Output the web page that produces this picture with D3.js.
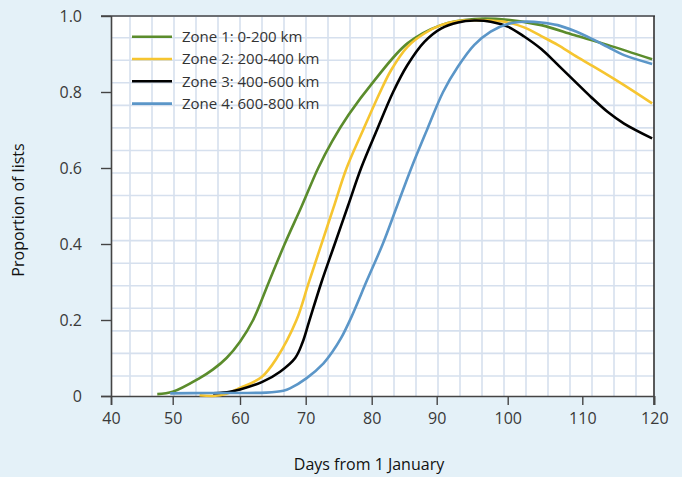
<!DOCTYPE html>
<html>
<head>
<meta charset="utf-8">
<script src="https://cdn.jsdelivr.net/npm/d3@7"></script>
<style>
  body { margin: 0; background: #e4f1f8; }
  svg { display: block; }
  text { font-family: "Open Sans", "Noto Sans", sans-serif; }
</style>
</head>
<body>
<svg id="chart" width="682" height="477"></svg>
<script>
// tick labels as printed on the chart
var dayTicks = [40, 50, 60, 70, 80, 90, 100, 110, 120];
var propTicks = [0, 0.2, 0.4, 0.6, 0.8, 1.0];

var zoneNames = ["Zone 1: 0-200 km", "Zone 2: 200-400 km", "Zone 3: 400-600 km", "Zone 4: 600-800 km"];
var zoneColors = ["#5b8c2c", "#f6c530", "#000000", "#5b96c8"];

// [day, proportion]
var zone1 = [[47.5,0.005],[50,0.011],[54,0.047],[56,0.07],[58,0.1],[60,0.143],[62,0.2],[64.4,0.3],[66.8,0.4],
  [69.4,0.5],[71.9,0.6],[74,0.67],[76.5,0.74],[80.4,0.83],[85.5,0.928],[90.6,0.976],[95.3,0.992],[100,0.99],
  [104.5,0.976],[108.9,0.95],[113.5,0.924],[119.7,0.886]];
var zone2 = [[54,0.002],[56,0.0],[58,0.006],[60,0.021],[63.3,0.05],[65.6,0.1],[68.6,0.2],[70.4,0.295],[72.2,0.39],
  [74.2,0.495],[76.2,0.6],[78.7,0.7],[81.3,0.8],[83,0.858],[85.5,0.919],[88.1,0.954],[90.6,0.976],[93,0.987],
  [95.3,0.989],[97.6,0.988],[100,0.983],[102.2,0.97],[104.5,0.947],[106.7,0.924],[108.9,0.897],[111.2,0.871],
  [113.5,0.845],[115.8,0.818],[119.7,0.77]];
var zone3 = [[56,0.007],[58.5,0.011],[60,0.017],[63.4,0.037],[66.1,0.064],[68.4,0.1],[69.5,0.14],[70.5,0.195],
  [72.4,0.3],[74.4,0.4],[76.4,0.5],[78.4,0.6],[80.8,0.7],[83.3,0.8],[85.5,0.871],[88.1,0.932],[90.6,0.967],
  [93,0.983],[95.3,0.988],[97.6,0.985],[100,0.972],[102.2,0.946],[104.5,0.913],[106.7,0.872],[108.9,0.83],
  [111.2,0.787],[113.5,0.748],[115.8,0.717],[119.7,0.678]];
var zone4 = [[49.6,0.007],[55,0.008],[60,0.008],[64,0.009],[66.6,0.014],[67.6,0.02],[70.15,0.047],[72.7,0.086],
  [74,0.115],[75.35,0.152],[76.9,0.207],[79.3,0.305],[81.7,0.4],[83.9,0.5],[86.1,0.6],[88.5,0.7],[90.9,0.8],
  [93,0.867],[95.3,0.924],[97.6,0.959],[100,0.979],[102.2,0.985],[104.5,0.983],[106.7,0.976],[108.9,0.961],
  [111.2,0.941],[113.5,0.919],[115.8,0.897],[119.7,0.874]];
var zones = [zone1, zone2, zone3, zone4];

var svg = d3.select("#chart");
var pLeft = 111, pRight = 654, pTop = 16, pBottom = 396;

// the printed day ticks are not evenly spaced, so follow them piece by piece
var x = d3.scaleLinear()
    .domain(dayTicks)
    .range([111, 172.7, 240, 305.7, 371.7, 436.7, 507.7, 582.3, 654.3]);
var y = d3.scaleLinear().domain([0, 1]).range([pBottom, pTop]);

// plot panel with graph paper grid
svg.append("rect").attr("x", pLeft).attr("y", pTop)
   .attr("width", pRight - pLeft).attr("height", pBottom - pTop).attr("fill", "#ffffff");

var grid = svg.append("g").attr("stroke", "#d6e0ee").attr("stroke-width", 1.6);
grid.selectAll("line.v").data(d3.range(0, 24)).enter().append("line")
    .attr("x1", function(k){ return 130 + 22 * k; }).attr("x2", function(k){ return 130 + 22 * k; })
    .attr("y1", pTop).attr("y2", pBottom);
grid.selectAll("line.h").data(d3.range(0, 16)).enter().append("line")
    .attr("y1", function(k){ return 37.7 + 22.55 * k; }).attr("y2", function(k){ return 37.7 + 22.55 * k; })
    .attr("x1", pLeft).attr("x2", pRight);

// frame top and right
svg.append("line").attr("x1", 101).attr("x2", pRight + 1).attr("y1", pTop).attr("y2", pTop)
   .attr("stroke", "#6b6e72").attr("stroke-width", 2);
svg.append("line").attr("x1", pRight).attr("x2", pRight).attr("y1", pTop).attr("y2", 405)
   .attr("stroke", "#333333").attr("stroke-width", 1.6);

// axes
var xAxis = svg.append("g").attr("transform", "translate(0," + pBottom + ")")
   .call(d3.axisBottom(x).tickValues(dayTicks).tickSize(9).tickSizeOuter(0).tickFormat(d3.format("d")));
var yAxis = svg.append("g").attr("transform", "translate(" + pLeft + ",0)")
   .call(d3.axisLeft(y).tickValues(propTicks).tickSize(10).tickSizeOuter(0)
     .tickFormat(function(d){ return d === 0 ? "0" : d3.format(".1f")(d); }));

[xAxis, yAxis].forEach(function(a){
  a.select(".domain").attr("stroke", "#444").attr("stroke-width", 1.6);
  a.selectAll(".tick line").attr("stroke", "#444").attr("stroke-width", 1.4);
  a.selectAll(".tick text").attr("fill", "#3a3a3a").style("font-size", "16px");
});
xAxis.select(".domain").attr("d", "M101,0.5H" + pRight);
yAxis.select(".domain").attr("d", "M0.5," + pTop + "V405");
xAxis.selectAll(".tick text").attr("y", 13).attr("dy", "0.95em");
yAxis.selectAll(".tick text").attr("x", -29);

// lines
var line = d3.line()
    .x(function(d){ return x(d[0]); })
    .y(function(d){ return y(d[1]); })
    .curve(d3.curveCatmullRom.alpha(0.5));

svg.selectAll("path.zone").data(zones).enter().append("path")
   .attr("class", "zone")
   .attr("d", line)
   .attr("fill", "none")
   .attr("stroke", function(d, i){ return zoneColors[i]; })
   .attr("stroke-width", 2.6);

// legend
var legend = svg.append("g");
zoneNames.forEach(function(name, i){
  var ly = 36.7 + i * 22.3;
  legend.append("line").attr("x1", 132).attr("x2", 172).attr("y1", ly).attr("y2", ly)
        .attr("stroke", zoneColors[i]).attr("stroke-width", 2.6);
  legend.append("text").attr("x", 182).attr("y", ly).attr("dy", "0.35em")
        .attr("fill", "#333").style("font-size", "15px").text(name);
});

// axis titles
svg.append("text").attr("x", 369).attr("y", 470).attr("text-anchor", "middle")
   .attr("fill", "#111").style("font-size", "16px").text("Days from 1 January");
svg.append("text").attr("transform", "translate(24,210) rotate(-90)").attr("text-anchor", "middle")
   .attr("fill", "#111").style("font-size", "16px").text("Proportion of lists");
</script>
</body>
</html>
